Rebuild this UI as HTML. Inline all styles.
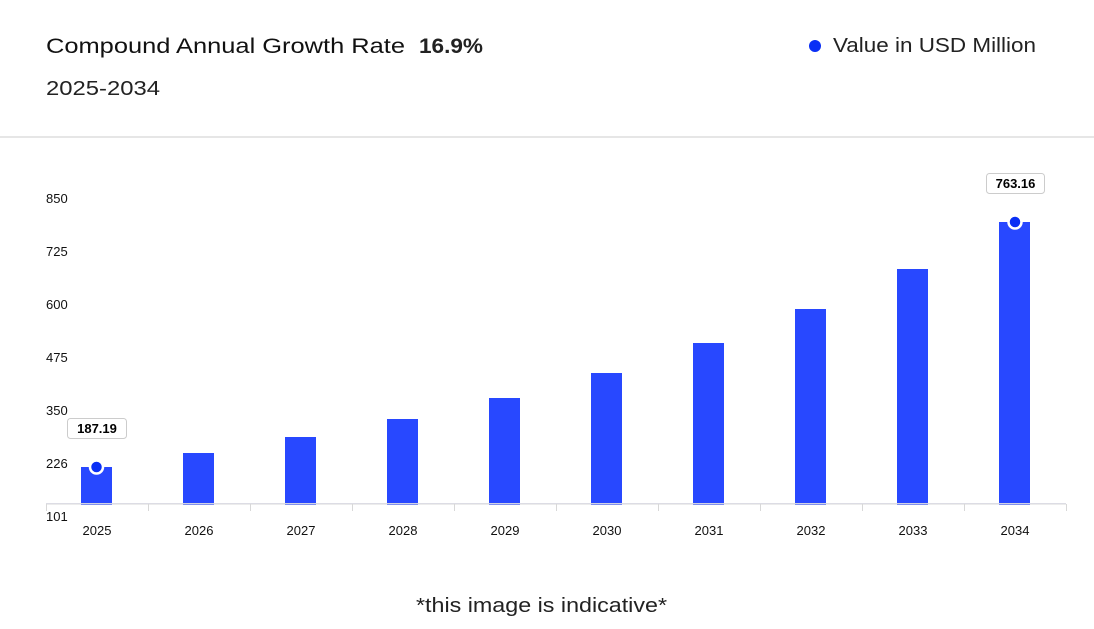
<!DOCTYPE html>
<html><head><meta charset="utf-8"><style>
html,body{margin:0;padding:0;background:#fff;}
body{width:1094px;height:629px;overflow:hidden;}
svg{display:block;font-family:"Liberation Sans",sans-serif;}
</style></head><body>
<svg width="1094" height="629" viewBox="0 0 1094 629">
<text x="46" y="53" font-size="21" fill="#111" textLength="359" lengthAdjust="spacingAndGlyphs">Compound Annual Growth Rate</text>
<text x="419" y="53" font-size="21" font-weight="bold" fill="#222" textLength="64" lengthAdjust="spacingAndGlyphs">16.9%</text>
<text x="46" y="95" font-size="20" fill="#222" textLength="114" lengthAdjust="spacingAndGlyphs">2025-2034</text>
<circle cx="815" cy="46" r="6" fill="#0a2ff5"/>
<text x="833" y="52" font-size="20" fill="#222" textLength="203" lengthAdjust="spacingAndGlyphs">Value in USD Million</text>
<rect x="0" y="136" width="1094" height="2" fill="#e6e6e6"/>
<g font-size="13" fill="#111">
<text x="46" y="203">850</text><text x="46" y="256">725</text><text x="46" y="309">600</text>
<text x="46" y="362">475</text><text x="46" y="415">350</text><text x="46" y="468">226</text>
<text x="46" y="521">101</text>
</g>
<g fill="#2848ff">
<rect x="81" y="467" width="31" height="38"/>
<rect x="183" y="453" width="31" height="52"/>
<rect x="285" y="437" width="31" height="68"/>
<rect x="387" y="419" width="31" height="86"/>
<rect x="489" y="398" width="31" height="107"/>
<rect x="591" y="373" width="31" height="132"/>
<rect x="693" y="343" width="31" height="162"/>
<rect x="795" y="309" width="31" height="196"/>
<rect x="897" y="269" width="31" height="236"/>
<rect x="999" y="222" width="31" height="283"/>
</g>
<rect x="46" y="503" width="1020" height="1.5" fill="#dcdcf0" opacity="0.9"/>
<g stroke="#d8d8d8" stroke-width="1">
<line x1="46" y1="504" x2="1066" y2="504"/>
<line x1="46.5" y1="504" x2="46.5" y2="511"/><line x1="148.5" y1="504" x2="148.5" y2="511"/>
<line x1="250.5" y1="504" x2="250.5" y2="511"/><line x1="352.5" y1="504" x2="352.5" y2="511"/>
<line x1="454.5" y1="504" x2="454.5" y2="511"/><line x1="556.5" y1="504" x2="556.5" y2="511"/>
<line x1="658.5" y1="504" x2="658.5" y2="511"/><line x1="760.5" y1="504" x2="760.5" y2="511"/>
<line x1="862.5" y1="504" x2="862.5" y2="511"/><line x1="964.5" y1="504" x2="964.5" y2="511"/>
<line x1="1066.5" y1="504" x2="1066.5" y2="511"/>
</g>
<g font-size="13" fill="#111" text-anchor="middle">
<text x="97" y="535">2025</text><text x="199" y="535">2026</text><text x="301" y="535">2027</text>
<text x="403" y="535">2028</text><text x="505" y="535">2029</text><text x="607" y="535">2030</text>
<text x="709" y="535">2031</text><text x="811" y="535">2032</text><text x="913" y="535">2033</text>
<text x="1015" y="535">2034</text>
</g>
<circle cx="96.5" cy="467" r="6.5" fill="#0a2ff5" stroke="#fff" stroke-width="2.5"/>
<circle cx="1015" cy="222" r="6.5" fill="#0a2ff5" stroke="#fff" stroke-width="2.5"/>
<rect x="67.5" y="418.5" width="59" height="20" rx="3" fill="#fff" stroke="#ccc"/>
<text x="97" y="433" font-size="13" font-weight="bold" text-anchor="middle" fill="#000">187.19</text>
<rect x="986.5" y="173.5" width="58" height="20" rx="3" fill="#fff" stroke="#ccc"/>
<text x="1015.5" y="188" font-size="13" font-weight="bold" text-anchor="middle" fill="#000">763.16</text>
<text x="416" y="612" font-size="20" fill="#222" textLength="251" lengthAdjust="spacingAndGlyphs">*this image is indicative*</text>
</svg>
</body></html>
